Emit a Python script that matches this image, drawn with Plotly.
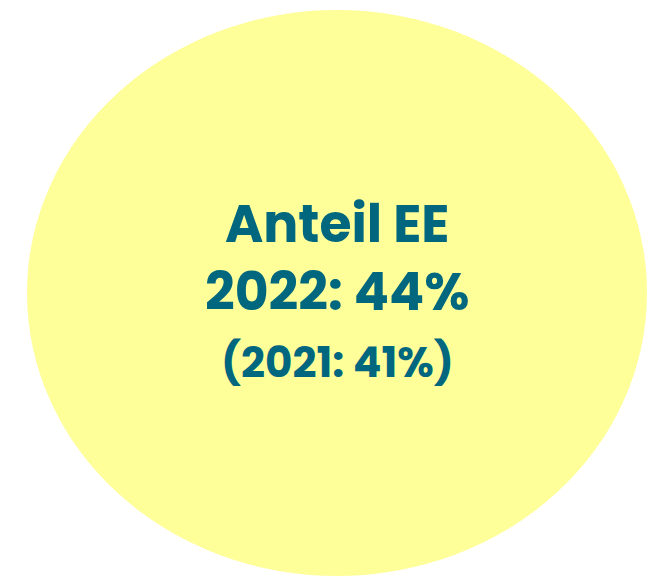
import plotly.graph_objects as go

label = "Anteil EE"
years = [2022, 2021]
shares = [44, 41]

W, H = 648, 576


def px(x):
    return x / W


def py(y):
    return 1 - y / H


fig = go.Figure()
fig.add_shape(type="circle", xref="paper", yref="paper",
              x0=px(27), x1=px(647), y0=py(576), y1=py(10),
              fillcolor="#FFFF99", line=dict(width=0), layer="below")

teal = "#00677F"
fam = "Poppins, Open Sans, sans-serif"
fig.add_annotation(x=px(337), y=py(257.5), xref="paper", yref="paper", showarrow=False,
                   text=f"{label}<br>{years[0]}: {shares[0]}%",
                   font=dict(family=fam, size=52, color=teal, weight=700))
fig.add_annotation(x=px(337), y=py(362), xref="paper", yref="paper", showarrow=False,
                   text=f"({years[1]}: {shares[1]}%)", font=dict(family=fam, size=42, color=teal, weight=700))

fig.update_layout(width=W, height=H, margin=dict(l=0, r=0, t=0, b=0),
                  paper_bgcolor="white", plot_bgcolor="white",
                  xaxis=dict(visible=False), yaxis=dict(visible=False), showlegend=False)
fig.write_html("out.html", config={"displayModeBar": False},
               post_script="document.body.style.margin='0';document.body.style.overflow='hidden';")
